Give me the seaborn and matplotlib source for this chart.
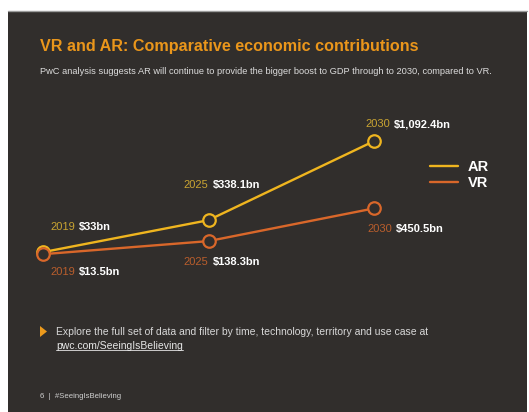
import matplotlib
matplotlib.use("Agg")
import matplotlib.pyplot as plt
import seaborn as sns
import pandas as pd
from matplotlib.lines import Line2D
from matplotlib.patches import Rectangle, Polygon

# ---- data ----
years = ["2019", "2025", "2030"]
ar_values = [33.0, 338.1, 1092.4]
vr_values = [13.5, 138.3, 450.5]
ar_labels = ["$33bn", "$338.1bn", "$1,092.4bn"]
vr_labels = ["$13.5bn", "$138.3bn", "$450.5bn"]
series = ["AR", "VR"]

# ---- style ----
W, H = 529, 412
BG = "#312e2c"
AR_C = "#efb51f"
VR_C = "#d9672a"
AR_YEAR_C = "#c9a432"
VR_YEAR_C = "#b95e2c"
TITLE_C = "#ea961b"
FONT = "Liberation Sans"

sns.set_theme(style="white")
plt.rcParams["font.family"] = [FONT, "DejaVu Sans"]

fig = plt.figure(figsize=(W / 100, H / 100), dpi=100, facecolor="white")

def fp(x, y):
    return (x / W, 1 - y / H)

# background panel
x0, y0 = fp(8, 412)
x1, y1 = fp(527, 11)
fig.patches.append(Rectangle((x0, y0), x1 - x0, y1 - y0, transform=fig.transFigure,
                             facecolor=BG, edgecolor="none", zorder=-10))
fig.add_artist(Line2D([x0, x1], [y1, y1], transform=fig.transFigure, color="#9c9c9c",
                      lw=1.0, zorder=-5))

ax = fig.add_axes([0, 0, 1, 1])
ax.set_facecolor("none")
ax.set_zorder(5)

df = pd.DataFrame({
    "year": years * 2,
    "value": ar_values + vr_values,
    "tech": [series[0]] * len(years) + [series[1]] * len(years),
})

sns.lineplot(data=df, x="year", y="value", hue="tech", hue_order=series,
             palette={"AR": AR_C, "VR": VR_C}, marker="o", markersize=9,
             markerfacecolor=BG, markeredgewidth=1.6, linewidth=1.7,
             legend=False, sort=False, ax=ax)
for line in ax.lines:
    line.set_markeredgecolor(line.get_color())

# map: x index 0 -> px 43, 2 -> px 374 ; y px = 255.6 - 0.1048*v
sx = (374 - 43) / 2
ax.set_xlim(-43 / sx, (W - 43) / sx)
ax.set_ylim((255.6 - H) / 0.1048, 255.6 / 0.1048)
ax.axis("off")

# value labels
ar_off = [(5, 18), (-18, 25), (-6.5, 12)]
vr_off = [(5, -13), (-18, -15), (-5, -15)]
for vals, labs, offs, yc in [(ar_values, ar_labels, ar_off, AR_YEAR_C),
                             (vr_values, vr_labels, vr_off, VR_YEAR_C)]:
    for i, (v, lab, off) in enumerate(zip(vals, labs, offs)):
        t = ax.annotate(years[i], xy=(i, v), xytext=off, textcoords="offset points",
                        ha="left", va="center", fontsize=8, color=yc)
        ax.annotate(lab, xy=(1, 0.5), xycoords=t, xytext=(3.2, 0),
                    textcoords="offset points", ha="left", va="center",
                    fontsize=8, color="white", fontweight="bold")

# legend
handles = [Line2D([], [], color=AR_C, lw=1.7), Line2D([], [], color=VR_C, lw=1.7)]
leg = ax.legend(handles, series, loc="upper left", bbox_to_anchor=fp(430, 160),
                bbox_transform=fig.transFigure, frameon=False, borderpad=0,
                borderaxespad=0, handlelength=1.9, handletextpad=0.7,
                labelspacing=0.15, prop={"family": FONT, "weight": "bold", "size": 10.5})
for txt in leg.get_texts():
    txt.set_color("white")

# title & subtitle
fig.text(*fp(40, 46), "VR and AR: Comparative economic contributions", fontsize=11.6,
         fontweight="bold", color=TITLE_C, va="center", ha="left")
fig.text(*fp(40, 71), "PwC analysis suggests AR will continue to provide the bigger boost to GDP through to 2030, compared to VR.",
         fontsize=6.7, color="#dcdcdc", va="center", ha="left")

# footer
tri = Polygon([fp(40, 326), fp(47, 331.5), fp(40, 337)], closed=True,
              transform=fig.transFigure, facecolor="#ec9a1c", edgecolor="none")
fig.patches.append(tri)
fig.text(*fp(56, 332), "Explore the full set of data and filter by time, technology, territory and use case at",
         fontsize=7.5, color="#d8d8d8", va="center", ha="left")
link = fig.text(*fp(56, 346), "pwc.com/SeeingIsBelieving", fontsize=7.5, color="#e6e6e6",
                va="center", ha="left")
fig.text(*fp(40, 396), "6  |  #SeeingIsBelieving", fontsize=5.6, color="#cfcfcf",
         va="center", ha="left")

fig.canvas.draw()
bb = link.get_window_extent()
ux0, ux1 = bb.x0 / W, bb.x1 / W
uy = (bb.y0 + 1.0) / H
fig.add_artist(Line2D([ux0, ux1], [uy, uy], transform=fig.transFigure, color="#e6e6e6", lw=0.6))

fig.savefig("out.png", dpi=100, facecolor="white")
